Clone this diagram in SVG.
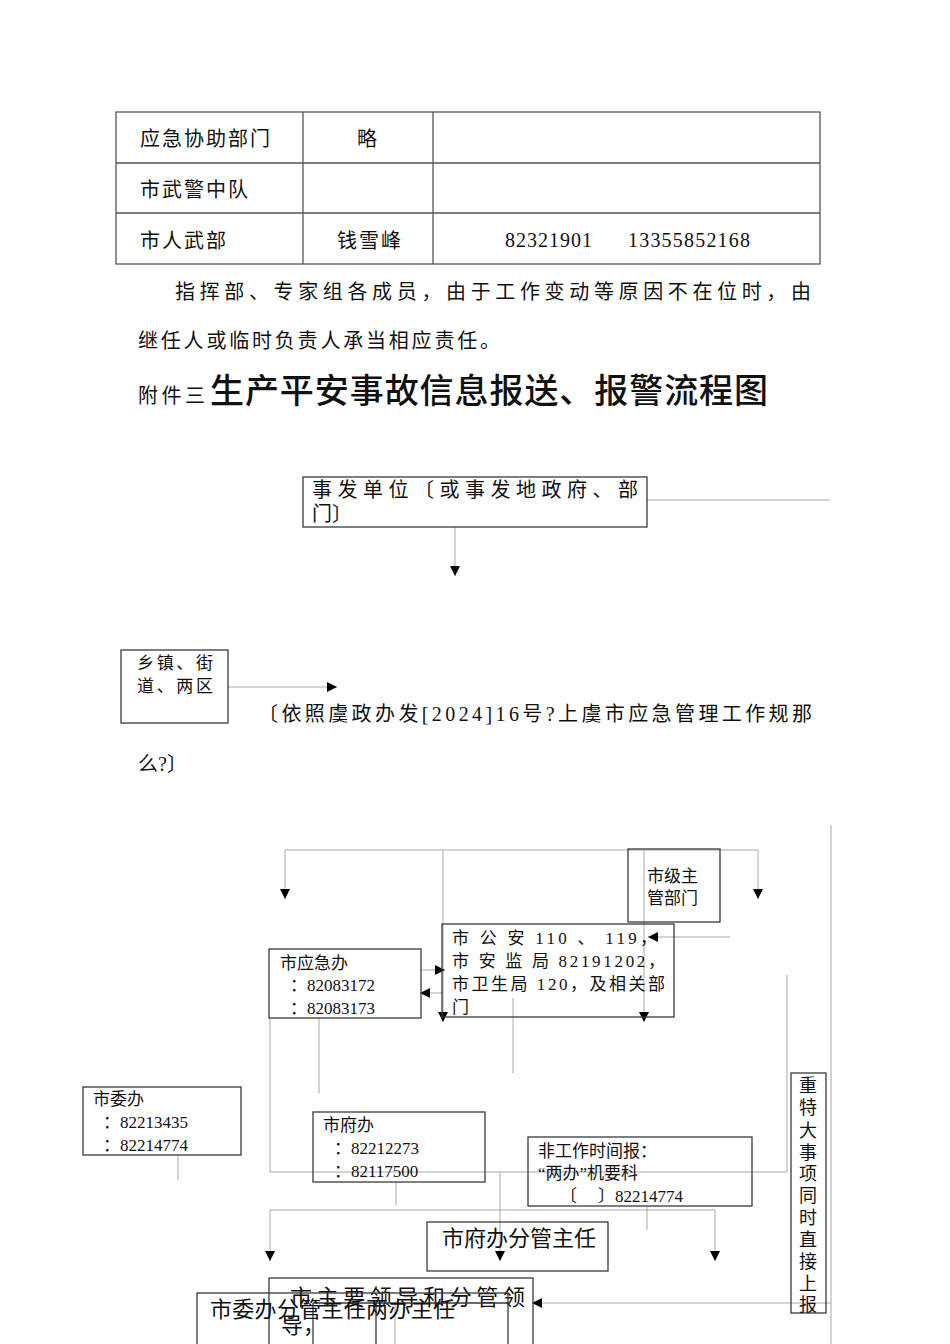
<svg xmlns="http://www.w3.org/2000/svg" width="950" height="1344" viewBox="0 0 950 1344">
<style>
text{font-family:"Liberation Serif","Noto Sans CJK SC",serif;fill:#111}
.t20{font-size:20px}
.t17{font-size:17px}
.t18{font-size:18px}
.t22{font-size:22px}
.box{fill:none;stroke:#3a3a3a;stroke-width:1.3}
.cn{fill:none;stroke:#a8a8a8;stroke-width:1}
.tb{fill:none;stroke:#555;stroke-width:1.3}
.title{font-family:"Noto Sans CJK SC",sans-serif;font-size:34px;font-weight:500}
</style>
<defs>
<marker id="ah" viewBox="0 0 10 10" refX="10" refY="5" markerWidth="10" markerHeight="10" markerUnits="userSpaceOnUse" orient="auto"><path d="M0,0 L10,5 L0,10 z" fill="#000"/></marker>
</defs>
<rect width="950" height="1344" fill="#fff"/>

<g id="table">
<rect class="tb" x="116" y="112" width="704" height="152"/>
<line class="tb" x1="116" y1="163" x2="820" y2="163"/>
<line class="tb" x1="116" y1="213" x2="820" y2="213"/>
<line class="tb" x1="303" y1="112" x2="303" y2="264"/>
<line class="tb" x1="433" y1="112" x2="433" y2="264"/>
<text class="t20" x="140" y="146" textLength="130">应急协助部门</text>
<text class="t20" x="357" y="146">略</text>
<text class="t20" x="140" y="197" textLength="108">市武警中队</text>
<text class="t20" x="140" y="248" textLength="86">市人武部</text>
<text class="t20" x="337" y="248" textLength="64">钱雪峰</text>
<text class="t20" x="505" y="247" textLength="87">82321901</text>
<text class="t20" x="628" y="247" textLength="122">13355852168</text>
</g>

<g id="paragraph">
<text class="t20" x="175" y="299" textLength="636">指挥部、专家组各成员，由于工作变动等原因不在位时，由</text>
<text class="t20" x="138" y="348" textLength="362">继任人或临时负责人承当相应责任。</text>
<text class="t20" x="138" y="403" textLength="67">附件三</text>
<text class="title" x="210" y="403" textLength="558">生产平安事故信息报送、报警流程图</text>
</g>

<g id="connectors">
<line class="cn" x1="647" y1="500" x2="830" y2="500"/>
<line class="cn" x1="455" y1="527" x2="455" y2="576" marker-end="url(#ah)"/>
<line class="cn" x1="228" y1="687" x2="337" y2="687" marker-end="url(#ah)"/>
<line class="cn" x1="831" y1="825" x2="831" y2="1344"/>
<line class="cn" x1="285" y1="850" x2="758" y2="850"/>
<line class="cn" x1="285" y1="850" x2="285" y2="899" marker-end="url(#ah)"/>
<line class="cn" x1="758" y1="850" x2="758" y2="899" marker-end="url(#ah)"/>
<line class="cn" x1="443" y1="850" x2="443" y2="1022" marker-end="url(#ah)"/>
<line class="cn" x1="644" y1="850" x2="644" y2="1022" marker-end="url(#ah)"/>
<line class="cn" x1="730" y1="937" x2="648" y2="937" marker-end="url(#ah)"/>
<line class="cn" x1="421" y1="970" x2="445" y2="970" marker-end="url(#ah)"/>
<line class="cn" x1="443" y1="993" x2="420" y2="993" marker-end="url(#ah)"/>
<line class="cn" x1="319" y1="1018" x2="319" y2="1093"/>
<line class="cn" x1="513" y1="998" x2="513" y2="1073"/>
<polyline class="cn" points="270,1018 270,1172 787,1172 787,975"/>
<line class="cn" x1="178" y1="1155" x2="178" y2="1180"/>
<line class="cn" x1="396" y1="1182" x2="396" y2="1205"/>
<line class="cn" x1="270" y1="1210" x2="715" y2="1210"/>
<line class="cn" x1="270" y1="1210" x2="270" y2="1261" marker-end="url(#ah)"/>
<line class="cn" x1="715" y1="1210" x2="715" y2="1261" marker-end="url(#ah)"/>
<line class="cn" x1="500" y1="1172" x2="500" y2="1261" marker-end="url(#ah)"/>
<line class="cn" x1="647" y1="1206" x2="647" y2="1230"/>
<line class="cn" x1="831" y1="1303" x2="532" y2="1303" marker-end="url(#ah)"/>
<line class="cn" x1="395" y1="1303" x2="395" y2="1344"/>
</g>

<g id="node-shifa">
<rect class="box" x="303" y="477" width="344" height="50"/>
<text class="t20" x="312" y="497" textLength="326">事发单位〔或事发地政府、部</text>
<text class="t20" x="312" y="521">门〕</text>
</g>

<g id="node-xiangzhen">
<rect class="box" x="121" y="650" width="107" height="73"/>
<text class="t17" x="137" y="669" textLength="76">乡镇、街</text>
<text class="t17" x="137" y="692" textLength="76">道、两区</text>
</g>

<g id="note">
<text class="t20" x="258" y="721" textLength="554">〔依照虞政办发[2024]16号?上虞市应急管理工作规那</text>
<text class="t20" x="138" y="771">么?〕</text>
</g>

<g id="node-shiji">
<rect class="box" x="628" y="849" width="92" height="73"/>
<text class="t17" x="647" y="882">市级主</text>
<text class="t17" x="647" y="904">管部门</text>
</g>

<g id="node-gongan">
<rect class="box" x="442" y="924" width="232" height="93"/>
<text class="t17" x="452" y="944" textLength="205">市 公 安 110 、 119，</text>
<text class="t17" x="452" y="967" textLength="213">市 安 监 局 82191202，</text>
<text class="t17" x="452" y="990" textLength="213">市卫生局 120，及相关部</text>
<text class="t17" x="452" y="1013">门</text>
</g>

<g id="node-yingji">
<rect class="box" x="269" y="949" width="152" height="69"/>
<text class="t17" x="280" y="969">市应急办</text>
<text class="t17" x="290" y="991">：82083172</text>
<text class="t17" x="290" y="1014">：82083173</text>
</g>

<g id="node-shiwei">
<rect class="box" x="83" y="1087" width="158" height="68"/>
<text class="t17" x="93" y="1105">市委办</text>
<text class="t17" x="103" y="1128">：82213435</text>
<text class="t17" x="103" y="1151">：82214774</text>
</g>

<g id="node-shifu">
<rect class="box" x="313" y="1112" width="172" height="70"/>
<text class="t17" x="323" y="1131">市府办</text>
<text class="t17" x="334" y="1154">：82212273</text>
<text class="t17" x="334" y="1177">：82117500</text>
</g>

<g id="node-feigongzuo">
<rect class="box" x="528" y="1137" width="224" height="69"/>
<text class="t17" x="538" y="1157">非工作时间报：</text>
<text class="t17" x="538" y="1179">“两办”机要科</text>
<text class="t17" x="560" y="1202">〔</text>
<text class="t17" x="598" y="1202">〕82214774</text>
</g>

<g id="node-zhongteda">
<rect class="box" x="791" y="1073" width="35" height="240"/>
<text class="t18" x="799" y="1092">重</text>
<text class="t18" x="799" y="1114">特</text>
<text class="t18" x="799" y="1137">大</text>
<text class="t18" x="799" y="1159">事</text>
<text class="t18" x="799" y="1180">项</text>
<text class="t18" x="799" y="1202">同</text>
<text class="t18" x="799" y="1224">时</text>
<text class="t18" x="799" y="1246">直</text>
<text class="t18" x="799" y="1268">接</text>
<text class="t18" x="799" y="1290">上</text>
<text class="t18" x="799" y="1311">报</text>
</g>

<g id="node-fuban-zhuren">
<rect class="box" x="427" y="1222" width="181" height="49"/>
<text class="t22" x="442" y="1246" textLength="154">市府办分管主任</text>
</g>

<g id="node-zhuyao">
<rect class="box" x="269" y="1278" width="264" height="80"/>
<text class="t22" x="290" y="1305" textLength="235">市主要领导和分管领</text>
<text class="t22" x="281" y="1333">导，</text>
</g>

<g id="node-weiban-zhuren">
<rect class="box" x="197" y="1293" width="311" height="60"/>
<line class="box" x1="313" y1="1303" x2="508" y2="1303"/>
<line class="box" x1="313" y1="1303" x2="313" y2="1344"/>
<line class="box" x1="376" y1="1303" x2="376" y2="1344"/>
<text class="t22" x="210" y="1317" textLength="245">市委办分管主任两办主任</text>
</g>
</svg>
